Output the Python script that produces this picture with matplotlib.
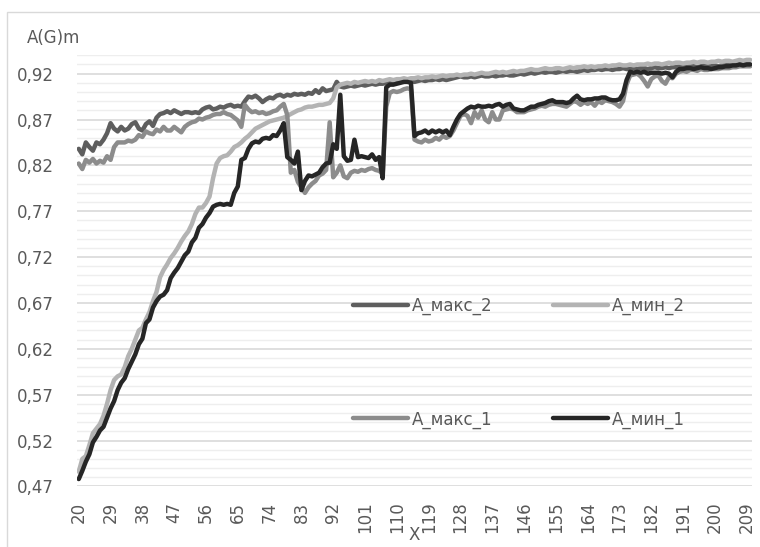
import numpy as np
import matplotlib
matplotlib.use("Agg")
import matplotlib.pyplot as plt
from matplotlib.ticker import FixedLocator
from matplotlib.patches import Rectangle

# categories on the x axis
x = np.arange(20, 211)
xticks = np.arange(20, 211, 9)

# А_макс_2 (dark gray)
a_max_2 = [
    .838, .832, .845, .840, .836, .845, .843, .848, .855, .866,
    .860, .857, .862, .858, .860, .865, .867, .860, .858, .865,
    .868, .863, .872, .876, .877, .879, .877, .880, .878, .876,
    .878, .878, .877, .878, .877, .881, .883, .884, .881, .882,
    .884, .883, .885, .886, .884, .885, .884, .890, .895, .894,
    .896, .893, .889, .892, .894, .893, .896, .897, .895, .897,
    .896, .898, .897, .898, .897, .899, .898, .902, .899, .904,
    .901, .902, .903, .911, .906, .905, .906, .907, .906, .907,
    .908, .907, .908, .909, .908, .909, .909, .910, .911, .910,
    .911, .912, .911, .912, .912, .911, .912, .913, .912, .913,
    .913, .914, .913, .914, .913, .914, .915, .916, .917, .916,
    .916, .917, .916, .917, .918, .917, .917, .918, .917, .918,
    .918, .919, .918, .918, .919, .920, .919, .920, .921, .920,
    .921, .922, .921, .922, .922, .921, .922, .923, .922, .923,
    .923, .922, .923, .924, .923, .924, .924, .925, .924, .925,
    .925, .924, .925, .925, .926, .925, .925, .926, .925, .926,
    .926, .925, .926, .927, .926, .926, .927, .926, .927, .927,
    .928, .927, .927, .928, .928, .927, .928, .929, .928, .928,
    .929, .928, .929, .929, .930, .929, .929, .930, .930, .930, .930,
]

# А_мин_2 (light gray)
a_min_2 = [
    .486, .500, .503, .515, .528, .533, .538, .547, .560, .575,
    .586, .590, .592, .600, .612, .620, .630, .640, .643, .652,
    .660, .672, .682, .698, .706, .712, .719, .724, .730, .737,
    .743, .748, .756, .767, .774, .774, .779, .786, .806, .822,
    .828, .830, .831, .835, .840, .842, .845, .849, .852, .856,
    .860, .862, .864, .866, .868, .869, .870, .871, .872, .874,
    .876, .878, .880, .881, .883, .884, .884, .885, .886, .886,
    .887, .888, .893, .905, .908, .909, .910, .909, .911, .910,
    .911, .912, .911, .912, .911, .913, .912, .913, .914, .913,
    .914, .914, .915, .914, .915, .915, .916, .915, .916, .916,
    .917, .916, .917, .918, .917, .918, .918, .919, .918, .919,
    .919, .920, .919, .920, .921, .920, .920, .921, .922, .921,
    .922, .921, .922, .923, .922, .923, .923, .924, .925, .924,
    .924, .925, .926, .925, .925, .926, .926, .925, .926, .927,
    .926, .927, .927, .928, .927, .928, .927, .928, .928, .929,
    .928, .929, .929, .930, .929, .929, .930, .929, .930, .930,
    .930, .931, .930, .931, .931, .930, .931, .932, .931, .932,
    .932, .931, .932, .932, .933, .932, .933, .933, .932, .933,
    .933, .934, .933, .934, .934, .933, .934, .935, .934, .935, .935,
]

# А_макс_1 (medium gray)
a_max_1 = [
    .822, .816, .826, .823, .827, .822, .825, .823, .830, .826,
    .840, .845, .845, .845, .847, .846, .848, .853, .851, .857,
    .855, .854, .859, .857, .862, .858, .858, .862, .859, .856,
    .862, .865, .867, .868, .871, .870, .872, .873, .875, .876,
    .876, .878, .876, .875, .872, .869, .862, .886, .881, .878,
    .879, .877, .878, .876, .877, .879, .880, .884, .887, .875,
    .812, .815, .802, .796, .790, .796, .800, .803, .809, .811,
    .815, .867, .807, .812, .820, .808, .806, .812, .814, .813,
    .815, .814, .816, .817, .815, .814, .811, .884, .899, .901,
    .900, .901, .903, .904, .903, .848, .846, .845, .848, .846,
    .847, .850, .848, .852, .850, .852, .858, .866, .874, .876,
    .874, .866, .878, .872, .880, .870, .867, .878, .870, .870,
    .880, .881, .882, .881, .878, .878, .878, .880, .881, .882,
    .884, .885, .884, .886, .887, .887, .886, .885, .884, .887,
    .890, .889, .886, .889, .887, .889, .885, .890, .888, .891,
    .890, .889, .887, .884, .890, .908, .918, .919, .920, .917,
    .912, .906, .914, .917, .918, .912, .909, .916, .915, .920,
    .922, .923, .922, .924, .924, .923, .925, .924, .924, .925,
    .925, .925, .926, .926, .926, .927, .927, .928, .928, .928, .928,
]

# А_мин_1 (black)
a_min_1 = [
    .478, .487, .497, .505, .518, .524, .531, .535, .545, .555,
    .563, .575, .583, .588, .598, .606, .614, .625, .631, .648,
    .652, .665, .672, .677, .679, .684, .697, .703, .708, .715,
    .722, .726, .736, .741, .752, .756, .763, .768, .775, .777,
    .778, .777, .778, .777, .790, .797, .826, .828, .838, .844,
    .846, .845, .849, .850, .849, .853, .852, .858, .866, .829,
    .826, .822, .835, .793, .803, .809, .808, .810, .812, .818,
    .822, .823, .843, .838, .897, .830, .825, .826, .848, .829,
    .830, .829, .828, .832, .826, .829, .806, .905, .908, .908,
    .909, .910, .911, .911, .910, .852, .855, .856, .858, .855,
    .858, .856, .858, .856, .858, .853, .862, .870, .876, .879,
    .882, .884, .883, .885, .884, .884, .885, .884, .886, .887,
    .884, .886, .887, .882, .881, .880, .880, .882, .884, .884,
    .886, .887, .888, .890, .891, .889, .889, .889, .888, .889,
    .893, .896, .892, .891, .892, .892, .893, .893, .894, .894,
    .892, .891, .891, .892, .898, .913, .922, .921, .922, .921,
    .922, .920, .921, .921, .921, .920, .921, .920, .916, .922,
    .925, .925, .926, .926, .925, .926, .927, .926, .926, .925,
    .926, .927, .927, .928, .928, .929, .929, .930, .929, .930, .930,
]

series = [
    ("А_макс_2", a_max_2, "#5e5e5e"),
    ("А_мин_2", a_min_2, "#b3b3b3"),
    ("А_макс_1", a_max_1, "#8c8c8c"),
    ("А_мин_1", a_min_1, "#262626"),
]

plt.rcParams["font.family"] = ["DejaVu Sans"]
txt = "#595959"
fs = 12

fig = plt.figure(figsize=(7.6, 5.47), dpi=100)
# chart area border (light gray frame running off the right/bottom edge)
fig.patches.append(Rectangle((7 / 760, -0.1), 1.2, 1 - 12 / 547 + 0.1,
                             transform=fig.transFigure, fill=False,
                             edgecolor="#d9d9d9", lw=1.0))

ax = fig.add_axes([77 / 760, 1 - 486.4 / 547, 675 / 760, 431.1 / 547])

lines = {}
for name, vals, col in series:
    ln, = ax.plot(x, vals, color=col, lw=3.2, label=name,
                  solid_joinstyle="round", solid_capstyle="round")
    lines[name] = ln

ax.set_xlim(19.5, 210.5)
ax.set_ylim(0.47, 0.94)

major = np.round(np.arange(0.47, 0.921, 0.05), 2)
minor = np.round(np.arange(0.47, 0.941, 0.01), 2)
ax.yaxis.set_major_locator(FixedLocator(major))
ax.yaxis.set_minor_locator(FixedLocator(minor))
ax.set_yticklabels([f"{v:.2f}".replace(".", ",") for v in major])
ax.set_xticks(xticks)
ax.set_xticklabels([str(v) for v in xticks], rotation=90)

ax.grid(which="minor", axis="y", color="#eeeeee", lw=1.0)
ax.grid(which="major", axis="y", color="#d9d9d9", lw=1.2)
ax.set_axisbelow(True)
ax.tick_params(axis="both", which="both", length=0, labelsize=fs, labelcolor=txt)
ax.tick_params(axis="y", pad=17)
ax.tick_params(axis="x", pad=11)
for s in ax.spines.values():
    s.set_visible(False)

fig.text(27 / 760, 1 - 38 / 547, "A(G)m", fontsize=fs, color=txt, va="center", ha="left")
fig.text(414 / 760, 1 - 535 / 547, "X", fontsize=fs, color=txt, va="center", ha="center")

handles = [lines["А_макс_2"], lines["А_макс_1"], lines["А_мин_2"], lines["А_мин_1"]]
leg = ax.legend(handles=handles, ncol=2, frameon=False, fontsize=fs,
                loc="upper left", bbox_to_anchor=(353 / 760, 1 - 297 / 547),
                bbox_transform=fig.transFigure, borderpad=0, borderaxespad=0,
                handlelength=3.3, handletextpad=0.25, columnspacing=3.6,
                labelspacing=5.7)
for t in leg.get_texts():
    t.set_color(txt)

fig.savefig("out.png", dpi=100)
